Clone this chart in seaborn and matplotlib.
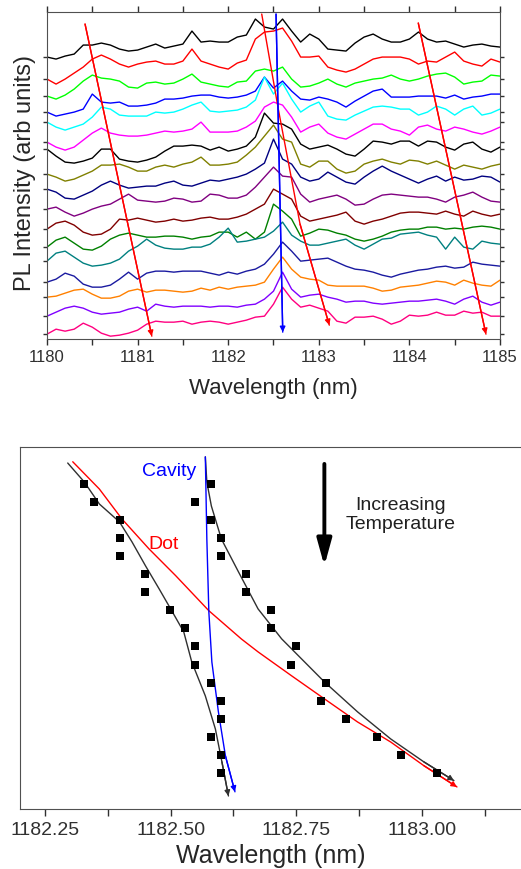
import numpy as np
import pandas as pd
import matplotlib
matplotlib.use("Agg")
import matplotlib.pyplot as plt
import matplotlib.ticker as mticker
import seaborn as sns

# ---- top panel: stacked PL spectra (0.1 nm steps) ----
wavelength = np.linspace(1180.0, 1185.0, 51)

trace01 = [282, 280, 283, 285, 294, 294, 296, 294, 290, 288, 289, 292, 295, 291, 293, 295, 308, 297, 298, 297,
           297, 302, 304, 320, 312, 310, 320, 308, 297, 305, 300, 290, 289, 288, 296, 302, 305, 300, 297, 297,
           300, 307, 300, 297, 298, 295, 292, 294, 295, 293, 292]
trace02 = [260, 255, 260, 266, 272, 280, 284, 280, 275, 272, 275, 277, 278, 275, 275, 278, 290, 278, 275, 272,
           270, 276, 279, 300, 307, 308, 311, 298, 282, 282, 283, 272, 269, 267, 270, 275, 280, 282, 282, 282,
           280, 275, 278, 277, 282, 287, 278, 275, 273, 280, 277]
trace03 = [243, 240, 244, 250, 258, 264, 261, 260, 258, 252, 251, 256, 257, 255, 256, 260, 265, 257, 255, 253,
           252, 257, 258, 268, 270, 268, 272, 260, 252, 253, 256, 260, 255, 252, 256, 258, 260, 261, 264, 260,
           258, 260, 263, 265, 266, 262, 255, 257, 258, 264, 263]
trace04 = [227, 223, 225, 227, 230, 245, 237, 236, 237, 233, 233, 234, 236, 240, 240, 241, 243, 244, 244, 242,
           241, 242, 244, 248, 262, 251, 258, 248, 240, 239, 242, 240, 237, 232, 238, 243, 248, 250, 242, 242,
           242, 243, 243, 243, 241, 244, 240, 242, 243, 245, 245]
trace05 = [217, 212, 209, 212, 215, 222, 232, 230, 224, 223, 223, 223, 227, 226, 227, 230, 234, 237, 228, 227,
           228, 229, 232, 239, 262, 245, 256, 240, 227, 233, 237, 223, 220, 219, 224, 228, 232, 233, 232, 230,
           230, 224, 227, 233, 230, 224, 230, 233, 224, 226, 230]
trace06 = [197, 192, 189, 192, 199, 206, 211, 206, 204, 203, 203, 204, 206, 208, 207, 208, 210, 217, 207, 207,
           207, 208, 212, 218, 232, 237, 234, 222, 207, 212, 215, 206, 202, 200, 205, 210, 215, 215, 210, 208,
           204, 212, 214, 210, 208, 212, 210, 207, 205, 208, 212]
trace07 = [190, 183, 177, 176, 178, 181, 190, 190, 180, 178, 177, 179, 182, 188, 193, 193, 194, 193, 189, 192,
           188, 190, 193, 202, 226, 216, 215, 210, 195, 190, 192, 194, 190, 185, 183, 190, 198, 197, 195, 198,
           198, 193, 198, 197, 192, 189, 195, 197, 190, 187, 192]
trace08 = [165, 162, 158, 160, 164, 168, 174, 174, 175, 172, 168, 168, 172, 174, 172, 175, 177, 182, 174, 174,
           175, 177, 184, 192, 203, 214, 200, 197, 175, 172, 178, 178, 170, 166, 168, 175, 178, 180, 177, 175,
           179, 178, 175, 178, 174, 170, 174, 172, 170, 173, 175]
trace09 = [150, 147, 141, 140, 144, 148, 154, 158, 154, 151, 152, 153, 153, 156, 158, 154, 153, 156, 159, 158,
           160, 162, 165, 170, 176, 200, 180, 175, 162, 158, 160, 167, 162, 157, 155, 162, 168, 173, 168, 164,
           160, 156, 160, 163, 158, 162, 159, 160, 163, 162, 157]
trace10 = [130, 132, 127, 123, 126, 130, 133, 135, 140, 145, 139, 138, 137, 138, 141, 140, 137, 138, 145, 144,
           141, 141, 144, 152, 162, 172, 163, 162, 145, 137, 140, 142, 144, 140, 134, 135, 140, 144, 145, 144,
           143, 142, 142, 140, 137, 142, 144, 147, 142, 138, 137]
trace11 = [110, 116, 118, 114, 107, 104, 105, 110, 120, 119, 121, 119, 117, 118, 120, 118, 119, 121, 122, 120,
           120, 122, 125, 130, 135, 150, 145, 140, 123, 118, 120, 122, 124, 127, 118, 115, 118, 120, 123, 126,
           127, 127, 126, 125, 128, 125, 123, 128, 125, 123, 125]
trace12 = [92, 99, 102, 96, 90, 89, 93, 100, 104, 106, 104, 102, 102, 103, 103, 102, 100, 102, 103, 107,
           107, 102, 107, 100, 107, 135, 128, 120, 103, 106, 110, 109, 106, 104, 100, 98, 100, 103, 107, 109,
           110, 110, 112, 112, 110, 111, 110, 112, 113, 112, 110]
trace13 = [78, 86, 88, 82, 76, 73, 74, 76, 80, 88, 93, 100, 94, 91, 90, 90, 92, 92, 95, 102,
           111, 97, 98, 100, 102, 108, 117, 104, 98, 94, 94, 96, 98, 100, 94, 90, 95, 100, 101, 105,
           106, 107, 104, 102, 90, 102, 92, 90, 98, 96, 95]
trace14 = [57, 60, 66, 63, 55, 52, 52, 54, 60, 67, 60, 66, 68, 68, 67, 68, 68, 68, 66, 64,
           67, 65, 68, 70, 75, 85, 97, 88, 78, 79, 80, 81, 77, 73, 70, 69, 67, 64, 62, 65,
           67, 69, 70, 72, 73, 71, 72, 77, 75, 74, 73]
trace15 = [42, 43, 46, 49, 50, 45, 41, 41, 43, 48, 50, 47, 49, 49, 48, 47, 48, 51, 49, 52,
           50, 52, 53, 54, 57, 70, 82, 70, 62, 60, 59, 54, 53, 53, 53, 53, 51, 48, 49, 52,
           53, 54, 56, 58, 57, 54, 59, 56, 54, 53, 59]
trace16 = [23, 27, 31, 33, 31, 27, 25, 26, 27, 30, 32, 28, 35, 33, 32, 33, 33, 33, 32, 33,
           33, 32, 34, 35, 40, 48, 67, 50, 42, 44, 45, 42, 40, 37, 38, 38, 36, 35, 36, 37,
           38, 38, 39, 40, 38, 35, 40, 43, 37, 34, 37]
trace17 = [5, 10, 8, 10, 16, 12, 6, 3, 4, 6, 9, 15, 18, 17, 17, 18, 15, 17, 18, 17,
           15, 17, 19, 22, 23, 35, 52, 40, 32, 34, 31, 28, 18, 16, 22, 22, 23, 20, 15, 18,
           24, 23, 24, 27, 24, 24, 28, 26, 27, 23, 23]

spectra = [trace01, trace02, trace03, trace04, trace05, trace06, trace07, trace08, trace09,
           trace10, trace11, trace12, trace13, trace14, trace15, trace16, trace17]
trace_colors = ['#000000', '#FF0000', '#00FF00', '#0000FF', '#00FFFF', '#FF00FF', '#000000',
                '#808000', '#000080', '#800080', '#800000', '#008000', '#008080', '#1A1AA0',
                '#FF8000', '#8000FF', '#FF0080']

# guide lines drawn over the spectra
dot1_wl = [1180.42, 1181.157]
dot1_y = [315, 3]
dot2_wl = [1182.37, 1182.553, 1182.793, 1183.116]
dot2_y = [325, 230, 115, 14]
dot3_wl = [1184.098, 1184.845]
dot3_y = [316, 5]
cav_wl = [1182.528, 1182.602]
cav_y = [325, 7]

# ---- bottom panel: peak positions vs temperature step ----
temp_step = list(range(1, 18))
branch_left = [1182.328, 1182.348, 1182.400, 1182.400, 1182.400, 1182.448, 1182.448, 1182.498, 1182.529,
               1182.549, 1182.549, 1182.580, 1182.600, 1182.600, 1182.580, 1182.600, 1182.600]
branch_right = [1182.580, 1182.549, 1182.580, 1182.600, 1182.600, 1182.649, 1182.649, 1182.700, 1182.700,
                1182.749, 1182.739, 1182.809, 1182.800, 1182.849, 1182.910, 1182.959, 1183.031]

fit_left_wl = [1182.295, 1182.328, 1182.358, 1182.398, 1182.423, 1182.450, 1182.477, 1182.500, 1182.526,
               1182.542, 1182.569, 1182.589, 1182.602, 1182.615]
fit_left_t = [-0.16, 0.89, 2.11, 3.10, 4.21, 5.54, 6.81, 7.92, 9.19, 10.86, 12.74, 14.57, 16.39, 18.28]
fit_right_wl = [1182.569, 1182.572, 1182.581, 1182.601, 1182.635, 1182.674, 1182.721, 1182.806, 1182.872,
                1182.938, 1183.004, 1183.064]
fit_right_t = [-0.50, 0.89, 2.22, 4.05, 5.87, 7.92, 9.58, 11.96, 13.62, 15.12, 16.39, 17.43]
dot_fit_wl = [1182.305, 1182.358, 1182.403, 1182.457, 1182.510, 1182.576, 1182.641, 1182.674, 1182.740,
              1182.806, 1182.872, 1182.938, 1183.004, 1183.070]
dot_fit_t = [-0.23, 1.28, 2.94, 4.60, 6.08, 8.02, 9.59, 10.30, 11.61, 12.90, 14.18, 15.29, 16.60, 17.78]
cav_fit_wl = [1182.569, 1182.572, 1182.576, 1182.582, 1182.595, 1182.609, 1182.628]
cav_fit_t = [-0.50, 4.05, 8.09, 10.86, 13.62, 16.06, 18.05]

sns.set_style("ticks")
plt.rcParams['font.family'] = ['Liberation Sans', 'DejaVu Sans']
plt.rcParams['axes.edgecolor'] = '#505050'
plt.rcParams['xtick.color'] = '#303030'
plt.rcParams['ytick.color'] = '#303030'

fig = plt.figure(figsize=(5.21, 8.70), dpi=100)
ax1 = fig.add_axes([0.0902, 0.609, 0.8695, 0.376])
ax2 = fig.add_axes([0.0384, 0.069, 0.9640, 0.4157])


def arrow_line(ax, xs, ys, color, lw=1.0, scale=8):
    ax.plot(xs, ys, color=color, lw=lw)
    ax.annotate('', xy=(xs[-1], ys[-1]), xytext=(xs[-2], ys[-2]),
                arrowprops=dict(arrowstyle='-|>', color=color, lw=lw,
                                mutation_scale=scale, shrinkA=0, shrinkB=0))


# top panel
rows = []
for k, vals in enumerate(spectra):
    for w, v in zip(wavelength, vals):
        rows.append((w, v, 'T%02d' % (k + 1)))
df = pd.DataFrame(rows, columns=['wavelength', 'intensity', 'trace'])
pal = {'T%02d' % (k + 1): c for k, c in enumerate(trace_colors)}
sns.lineplot(data=df, x='wavelength', y='intensity', hue='trace', palette=pal,
             legend=False, estimator=None, sort=False, lw=1.0, ax=ax1)

arrow_line(ax1, dot1_wl, dot1_y, '#FF0000')
arrow_line(ax1, dot2_wl, dot2_y, '#FF0000')
arrow_line(ax1, dot3_wl, dot3_y, '#FF0000')
arrow_line(ax1, cav_wl, cav_y, '#0000FF')

ax1.set_xlim(1180, 1185)
ax1.set_ylim(0, 327)
ax1.xaxis.set_major_locator(mticker.MultipleLocator(1))
ax1.xaxis.set_minor_locator(mticker.MultipleLocator(0.5))
ax1.set_yticks([t[0] for t in spectra])
ax1.set_yticklabels([])
ax1.tick_params(axis='x', which='both', direction='out', length=4, width=1, labelsize=12, pad=3,
                top=True)
ax1.tick_params(axis='y', which='both', direction='out', length=3, width=1, right=True)
ax1.set_xlabel('Wavelength (nm)', fontsize=16, va='center')
ax1.set_ylabel('PL Intensity (arb units)', fontsize=17, va='center')
ax1.xaxis.set_label_coords(0.499, -0.147)
ax1.yaxis.set_label_coords(-0.049, 0.51)

# bottom panel
arrow_line(ax2, fit_left_wl, fit_left_t, '#303030')
arrow_line(ax2, fit_right_wl, fit_right_t, '#303030')
arrow_line(ax2, dot_fit_wl, dot_fit_t, '#FF0000')
arrow_line(ax2, cav_fit_wl, cav_fit_t, '#0000FF')
sns.scatterplot(x=branch_left + branch_right, y=temp_step + temp_step, marker='s', s=30,
                color='black', linewidth=0, ax=ax2, zorder=5)

ax2.annotate('', xy=(1182.806, 5.54), xytext=(1182.806, -0.11),
             arrowprops=dict(arrowstyle='-|>,head_length=0.8,head_width=0.22', color='black',
                             lw=2.8, mutation_scale=20, shrinkA=0, shrinkB=0))
ax2.text(1182.497, 0.28, 'Cavity', color='#0000FF', fontsize=14, ha='center', va='center')
ax2.text(1182.485, 4.27, 'Dot', color='#FF0000', fontsize=14, ha='center', va='center')
ax2.text(1182.958, 2.66, 'Increasing\nTemperature', color='#202020', fontsize=14,
         ha='center', va='center', linespacing=1.2)

ax2.set_xlim(1182.20, 1183.20)
ax2.set_ylim(19.0, -1.03)
ax2.xaxis.set_major_locator(mticker.MultipleLocator(0.25))
ax2.xaxis.set_minor_locator(mticker.MultipleLocator(0.125))
ax2.xaxis.set_major_formatter(mticker.FormatStrFormatter('%.2f'))
ax2.set_yticks([])
ax2.tick_params(axis='x', which='both', direction='out', length=5, width=1, labelsize=14, pad=4)
ax2.spines['right'].set_visible(False)
ax2.set_xlabel('Wavelength (nm)', fontsize=18, va='center')
ax2.xaxis.set_label_coords(0.5, -0.128)

fig.savefig('out.png', dpi=100)
